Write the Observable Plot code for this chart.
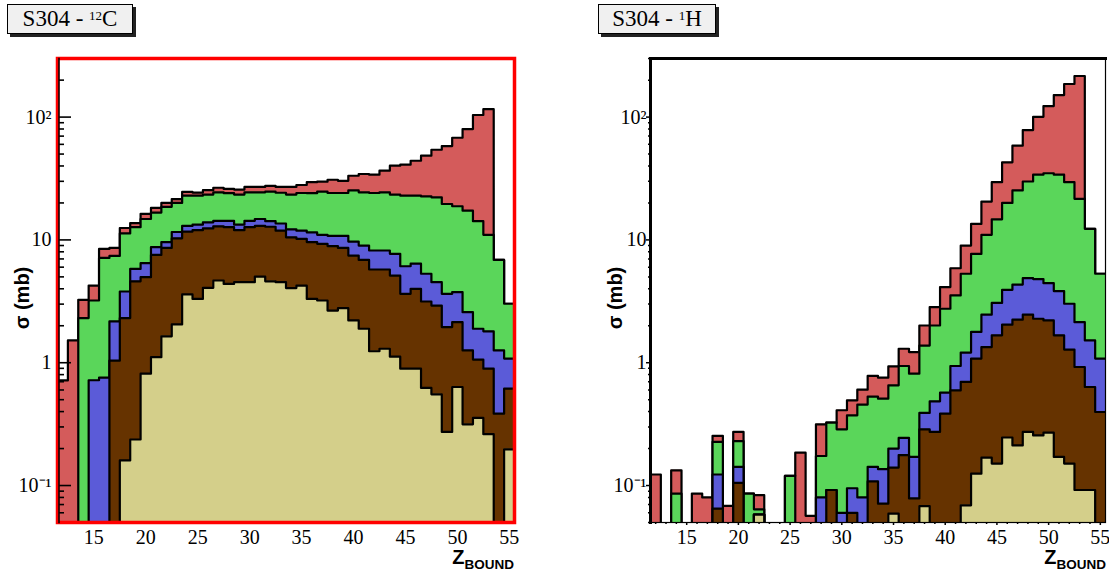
<!DOCTYPE html>
<html><head><meta charset="utf-8">
<script src="https://cdn.jsdelivr.net/npm/d3@7"></script>
<script src="https://cdn.jsdelivr.net/npm/@observablehq/plot@0.6"></script>
<style>
body{margin:0;background:#fff;}
#wrap{position:relative;width:1109px;height:574px;overflow:hidden;background:#fff;font-family:"Liberation Serif","Times New Roman",serif;}
.tbox{position:absolute;box-sizing:border-box;background:#f0f0f0;border:1px solid #000;box-shadow:3px 3px 0 #222;font-size:23px;line-height:27px;text-align:center;color:#000;}
.tbox sup{font-size:13px;vertical-align:top;position:relative;top:-3px;}
.ylab{position:absolute;font-family:"Liberation Sans",Arial,sans-serif;font-weight:bold;font-size:20px;white-space:nowrap;transform:translate(-50%,-50%) rotate(-90deg);}
.xlab{position:absolute;font-family:"Liberation Sans",Arial,sans-serif;font-weight:bold;white-space:nowrap;line-height:20px;}
.xlab .z{font-size:20px;}
.xlab .s{font-size:13.5px;position:relative;top:5px;}
</style>
</head><body>
<div id="wrap"></div>
<script>
// bins of Z_BOUND
const Z = [12,13,14,15,16,17,18,19,20,21,22,23,24,25,26,27,28,29,30,31,32,33,34,35,36,37,38,39,40,41,42,43,44,45,46,47,48,49,50,51,52,53,54,55];

// S304 - 12C (mb)
const C_RED   = [0.718,1.52,3.25,4.25,8.45,8.6,12.5,13.7,16.3,18.2,20.0,21.5,24.6,24.3,25.4,26.6,26.0,25.7,27.0,27.0,27.5,27.0,27.0,28.0,29.5,29.8,30.9,30.3,33.3,34.4,34.0,36.6,40.2,41.0,44.1,48.5,54.2,58.1,67.9,79.9,104,116,6.87,3.02];
const C_GREEN = [0,0,2.31,3.21,7.14,7.4,11.3,12.7,14.8,16.7,18.6,20.0,22.9,22.9,23.4,24.4,24.0,23.4,24.4,24.4,24.7,24.2,23.4,24.1,24.0,24.7,24.1,24.1,25.3,24.4,24.1,24.4,23.4,22.9,22.9,22.6,22.2,19.6,18.8,17.3,14.2,11.0,6.87,3.02];
const C_BLUE  = [0,0,0,0.72,0.755,2.17,3.8,5.8,6.46,8.74,9.6,11.6,13.0,13.3,13.9,14.3,14.3,13.3,14.3,14.8,14.2,13.6,12.2,11.9,11.5,11.0,10.8,10.8,9.7,9.0,8.2,8.2,7.7,6.1,6.4,5.3,4.53,3.64,3.76,2.58,1.89,1.80,1.26,1.08];
const C_BROWN = [0,0,0,0,0,1.04,2.31,4.6,4.97,7.54,8.6,10.3,11.7,12.0,12.4,12.9,12.7,12.0,12.7,13.0,12.8,11.9,10.5,10.2,9.6,9.3,8.9,8.6,7.45,6.87,5.74,5.74,5.12,3.64,4.0,3.15,2.92,1.95,2.14,1.26,1.06,0.894,0.385,0.615];
const C_KHAKI = [0,0,0,0,0,0,0.16,0.237,0.814,1.11,1.64,2.05,3.6,3.31,4.07,4.67,4.38,4.53,4.53,5.03,4.6,4.53,4.05,4.25,3.31,3.21,2.66,2.78,2.21,1.89,1.24,1.30,1.12,0.894,0.894,0.623,0.553,0.273,0.634,0.315,0.355,0.262,0,0.197];

// S304 - 1H (mb)
const H_RED   = [0.123,0,0.133,0,0.086,0.080,0.254,0.0682,0.273,0.086,0.0834,0,0,0.12,0.185,0.0567,0.315,0.325,0.41,0.494,0.603,0.78,0.755,0.933,1.30,1.22,2.01,2.84,4.13,5.88,8.99,13.5,20.5,29.5,42.8,58.5,78.4,100.6,123,151,186,216,12.3,5.3];
const H_GREEN = [0,0,0.086,0,0,0,0.227,0,0.23,0.086,0.064,0,0,0.12,0,0,0.174,0.325,0.287,0.373,0.456,0.53,0.51,0.654,0.94,0.814,1.38,2.01,2.75,3.53,5.3,7.69,11.0,14.7,20.0,25.3,29.9,34.0,34.9,34.0,29.5,21.6,12.3,5.3];
const H_BLUE  = [0,0,0,0,0,0,0.123,0,0.142,0,0.058,0,0,0,0,0,0.080,0.092,0.06,0.095,0.08,0.142,0.136,0.2,0.244,0.171,0.39,0.485,0.57,0.94,1.21,1.78,2.46,3.07,3.92,4.33,4.88,4.8,4.44,3.83,3.02,2.14,1.52,1.08];
const H_BROWN = [0,0,0,0,0,0,0.0649,0,0.105,0,0.058,0,0,0,0,0,0,0.092,0,0.06,0,0.108,0.0712,0.14,0.177,0.0785,0.287,0.273,0.385,0.595,0.697,1.08,1.34,1.67,2.04,2.24,2.46,2.28,2.21,1.67,1.28,0.923,0.634,0.397];
const H_KHAKI = [0,0,0,0,0,0,0,0,0,0,0.058,0,0,0,0,0,0,0,0,0,0,0,0,0.059,0,0,0.068,0,0,0,0.069,0.125,0.169,0.151,0.246,0.212,0.273,0.256,0.27,0.171,0.151,0.092,0.092,0];

// axis ticks and labels
const Y_MAJOR = [0.1, 1, 10, 100];
const Y_MAJOR_LABELS = ["10\u207B\u00B9", "1", "10", "10\u00B2"];
const Y_MINOR = [0.05,0.06,0.07,0.08,0.09,0.2,0.3,0.4,0.5,0.6,0.7,0.8,0.9,2,3,4,5,6,7,8,9,20,30,40,50,60,70,80,90,200,300];
const X_TICKS = [15,20,25,30,35,40,45,50,55];
const X_MINOR = [12,13,14,16,17,18,19,21,22,23,24,26,27,28,29,31,32,33,34,36,37,38,39,41,42,43,44,46,47,48,49,51,52,53,54];
const TITLES = ["S304 - <sup>12</sup>C", "S304 - <sup>1</sup>H"];

const COLORS = ["#d45b5b", "#5ad65a", "#5b5bd8", "#663300", "#d4cf8a"];
const FLOOR = 0.001;
const X_DOMAIN = [11.5, 55.5];
const Y_DOMAIN = [0.05, 300];

function stepPoints(vals) {
  const pts = Z.map((z, i) => ({x: z - 0.5, y: vals[i] > 0 ? vals[i] : FLOOR}));
  pts.push({x: Z[Z.length - 1] + 0.5, y: pts[pts.length - 1].y});
  return pts;
}
function histMarks(list) {
  const marks = [];
  list.forEach((vals, k) => {
    const pts = stepPoints(vals);
    marks.push(Plot.areaY(pts, {x: "x", y1: FLOOR, y2: "y", curve: "step-after", fill: COLORS[k], clip: true}));
    marks.push(Plot.lineY(pts, {x: "x", y: "y", curve: "step-after", stroke: "#000", strokeWidth: 2.2, clip: true}));
  });
  return marks;
}
const fmtY = d => Y_MAJOR_LABELS[Y_MAJOR.indexOf(d)];
const STYLE = {fontFamily: "'Liberation Serif','Times New Roman',serif", fontSize: "20px", background: "transparent", color: "#000", overflow: "visible"};

const leftPlot = Plot.plot({
  width: 554, height: 574,
  marginLeft: 57, marginRight: 40, marginTop: 58, marginBottom: 52,
  style: STYLE,
  x: {domain: X_DOMAIN, label: null},
  y: {type: "log", domain: Y_DOMAIN, label: null},
  marks: [
    ...histMarks([C_RED, C_GREEN, C_BLUE, C_BROWN, C_KHAKI]),
    Plot.axisY(Y_MAJOR, {tickSize: -14, tickFormat: () => "", strokeWidth: 1.6, label: null}),
    Plot.axisY(Y_MINOR, {tickSize: -7, tickFormat: () => "", strokeWidth: 1.6, label: null}),
    Plot.axisY(Y_MAJOR, {tickSize: 0, tickPadding: 6, tickFormat: fmtY, fontSize: 20, label: null}),
    Plot.axisX(X_TICKS, {tickSize: 0, tickPadding: 7, fontSize: 20, label: null}),
    Plot.frame({stroke: "#ff0000", strokeWidth: 3.5}),
    Plot.frame({anchor: "left", stroke: "#000", strokeWidth: 1.5, dx: 1.5})
  ]
});

const rightPlot = Plot.plot({
  width: 555, height: 574,
  marginLeft: 96, marginRight: 4, marginTop: 58, marginBottom: 52,
  style: STYLE,
  x: {domain: X_DOMAIN, label: null},
  y: {type: "log", domain: Y_DOMAIN, label: null},
  marks: [
    ...histMarks([H_RED, H_GREEN, H_BLUE, H_BROWN, H_KHAKI]),
    Plot.frame({stroke: "#000", strokeWidth: 1.2}),
    Plot.frame({anchor: "left", stroke: "#000", strokeWidth: 3}),
    Plot.frame({anchor: "top", stroke: "#000", strokeWidth: 3}),
    Plot.axisY(Y_MAJOR, {tickSize: 4, tickFormat: () => "", strokeWidth: 1.5, label: null}),
    Plot.axisY(Y_MINOR, {tickSize: 2, tickFormat: () => "", strokeWidth: 1.5, label: null}),
    Plot.axisY(Y_MAJOR, {tickSize: 0, tickPadding: 4, tickFormat: fmtY, fontSize: 20, label: null}),
    Plot.axisX(X_TICKS, {tickSize: 3, tickPadding: 4, fontSize: 20, strokeWidth: 1.5, label: null}),
    Plot.axisX(X_MINOR, {tickSize: 2, tickFormat: () => "", strokeWidth: 1.5, label: null})
  ]
});

const wrap = document.getElementById("wrap");
leftPlot.style.position = "absolute"; leftPlot.style.left = "0px"; leftPlot.style.top = "0px";
rightPlot.style.position = "absolute"; rightPlot.style.left = "554px"; rightPlot.style.top = "0px";
wrap.append(leftPlot, rightPlot);

function addBox(html, left, top, w, h) {
  const d = document.createElement("div");
  d.className = "tbox"; d.innerHTML = html;
  Object.assign(d.style, {left: left + "px", top: top + "px", width: w + "px", height: h + "px"});
  wrap.append(d);
}
addBox(TITLES[0], 7, 4, 126, 30);
addBox(TITLES[1], 598, 4, 118, 30);

function addYLab(x, y) {
  const d = document.createElement("div");
  d.className = "ylab"; d.textContent = "\u03C3 (mb)";
  Object.assign(d.style, {left: x + "px", top: y + "px"});
  wrap.append(d);
}
addYLab(22, 298);
addYLab(615, 298);

function addXLab(right, top) {
  const d = document.createElement("div");
  d.className = "xlab";
  d.innerHTML = '<span class="z">Z</span><span class="s">BOUND</span>';
  Object.assign(d.style, {right: right + "px", top: top + "px"});
  wrap.append(d);
}
addXLab(1109 - 514, 547);
addXLab(1109 - 1106, 547);
</script>
</body></html>
